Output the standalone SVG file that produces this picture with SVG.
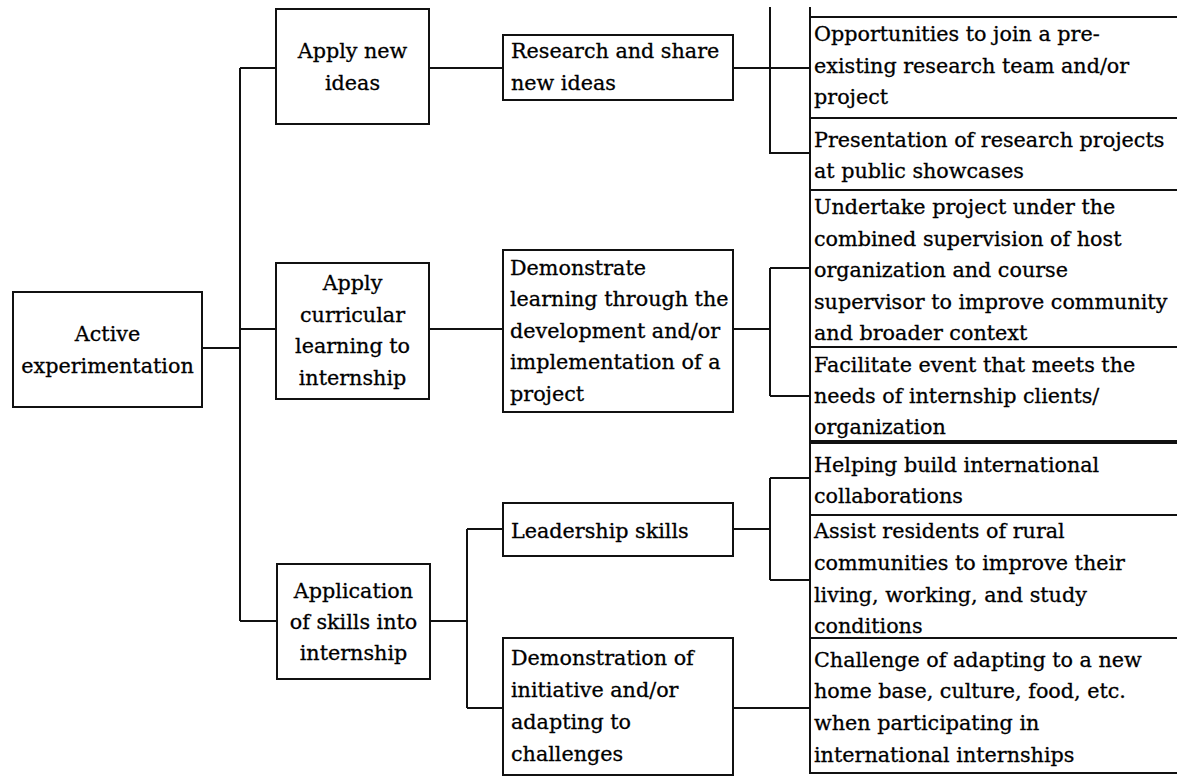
<svg xmlns="http://www.w3.org/2000/svg" width="1177" height="776" viewBox="0 0 1177 776">
<style>
.box{fill:#fff;stroke:#111;stroke-width:2}
.ln{fill:none;stroke:#111;stroke-width:2}
text{font-family:"DejaVu Serif","Liberation Serif",serif;font-size:20.7px;fill:#000;stroke:#000;stroke-width:0.3}
.c{text-anchor:middle}
</style>
<rect width="1177" height="776" fill="#fff"/>
<g id="connectors">
<path class="ln" d="M202 348H240M240 68V621M240 68H276M240 329H276M240 621H277"/>
<path class="ln" d="M429 68H503M733 68H810M770 7V153H810"/>
<path class="ln" d="M429 329H503M733 329H770M770 268V396M770 268H810M770 396H810"/>
<path class="ln" d="M430 621H467M467 529V708M467 529H503M467 708H503"/>
<path class="ln" d="M733 529H770M770 478V580M770 478H810M770 580H810M733 708H810"/>
</g>
<g id="n-active"><rect class="box" x="13" y="292" width="189" height="115"/>
<text class="c" x="107.5" y="341">Active</text><text class="c" x="107.5" y="373">experimentation</text></g>
<g id="n-apply-new"><rect class="box" x="276" y="9" width="153" height="115"/>
<text class="c" x="352.5" y="58">Apply new</text><text class="c" x="352.5" y="90">ideas</text></g>
<g id="n-apply-curr"><rect class="box" x="276" y="263" width="153" height="136"/>
<text class="c" x="352.5" y="290">Apply</text><text class="c" x="352.5" y="322">curricular</text><text class="c" x="352.5" y="353">learning to</text><text class="c" x="352.5" y="385">internship</text></g>
<g id="n-application"><rect class="box" x="277" y="564" width="153" height="115"/>
<text class="c" x="353.5" y="598">Application</text><text class="c" x="353.5" y="629">of skills into</text><text class="c" x="353.5" y="660">internship</text></g>
<g id="n-research"><rect class="box" x="503" y="35" width="230" height="65"/>
<text x="511" y="58">Research and share</text><text x="511" y="90">new ideas</text></g>
<g id="n-demonstrate"><rect class="box" x="503" y="250" width="230" height="162"/>
<text x="510" y="275">Demonstrate</text><text x="510" y="306">learning through the</text><text x="510" y="338">development and/or</text><text x="510" y="369">implementation of a</text><text x="510" y="401">project</text></g>
<g id="n-leadership"><rect class="box" x="503" y="503" width="230" height="53"/>
<text x="511" y="538">Leadership skills</text></g>
<g id="n-demonstration"><rect class="box" x="503" y="638" width="230" height="137"/>
<text x="511" y="665">Demonstration of</text><text x="511" y="697">initiative and/or</text><text x="511" y="729">adapting to</text><text x="511" y="761">challenges</text></g>
<g id="n-top-cut"><path class="ln" d="M810 7V17H1180"/></g>
<g id="n-opportunities"><rect class="box" x="810" y="17" width="380" height="101"/>
<text x="814" y="41">Opportunities to join a pre-</text><text x="814" y="73">existing research team and/or</text><text x="814" y="104">project</text></g>
<g id="n-presentation"><rect class="box" x="810" y="118" width="380" height="72"/>
<text x="814" y="147">Presentation of research projects</text><text x="814" y="178">at public showcases</text></g>
<g id="n-undertake"><rect class="box" x="810" y="190" width="380" height="157"/>
<text x="814" y="214">Undertake project under the</text><text x="814" y="246">combined supervision of host</text><text x="814" y="277">organization and course</text><text x="814" y="309">supervisor to improve community</text><text x="814" y="340">and broader context</text></g>
<g id="n-facilitate"><rect class="box" x="810" y="347" width="380" height="95"/>
<text x="814" y="372">Facilitate event that meets the</text><text x="814" y="403">needs of internship clients/</text><text x="814" y="434">organization</text></g>
<g id="n-helping"><rect class="box" x="810" y="443" width="380" height="72"/>
<path d="M810 442H1180" stroke="#111" stroke-width="4"/>
<text x="814" y="472">Helping build international</text><text x="814" y="503">collaborations</text></g>
<g id="n-assist"><rect class="box" x="810" y="515" width="380" height="123"/>
<text x="814" y="538">Assist residents of rural</text><text x="814" y="570">communities to improve their</text><text x="814" y="602">living, working, and study</text><text x="814" y="633">conditions</text></g>
<g id="n-challenge"><rect class="box" x="810" y="638" width="380" height="135"/>
<text x="814" y="667">Challenge of adapting to a new</text><text x="814" y="698">home base, culture, food, etc.</text><text x="814" y="730">when participating in</text><text x="814" y="762">international internships</text></g>
</svg>
